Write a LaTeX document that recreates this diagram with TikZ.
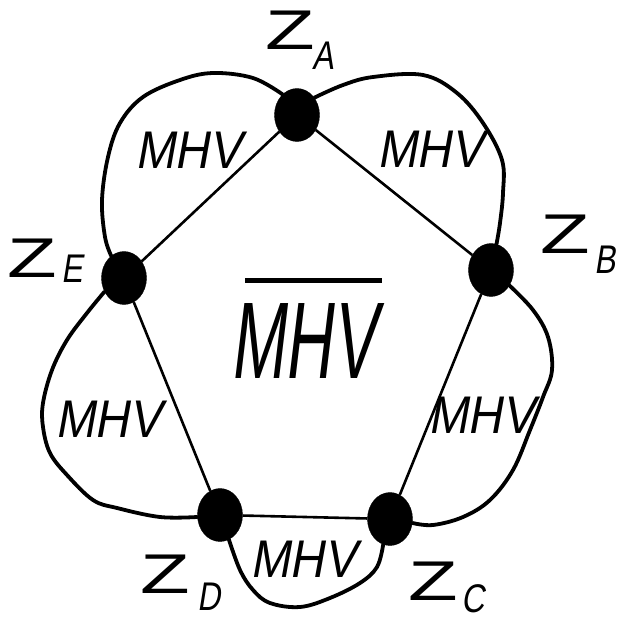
\documentclass[tikz,border=0pt]{standalone}
\usepackage{graphicx}
\usepackage{fontspec}
\setmainfont{Liberation Sans}
\newfontfamily\hand[FakeSlant=0.2]{Liberation Sans}
\usetikzlibrary{shapes.geometric}
\newcommand\zlab[3]{\scalebox{1.45}[1]{\fontsize{56}{56}\selectfont Z}\kern#2pt\raisebox{-#1pt}{\scalebox{0.8}[1]{\fontsize{40}{40}\selectfont\hand #3}}}
\begin{document}
\begin{tikzpicture}[x=1pt,y=-1pt,
 dot/.style={ellipse,fill=black,draw=black,minimum width=45pt,minimum height=53pt,inner sep=0pt},
 edge/.style={line width=2.6pt},
 lp/.style={line width=3.8pt,line cap=round,line join=round},
 mhv/.style={font=\hand\fontsize{53}{53}\selectfont,inner sep=0pt,xscale=0.9},
 bigmhv/.style={font=\hand\fontsize{109}{109}\selectfont,inner sep=0pt,xscale=0.6},
 zl/.style={inner sep=0pt,anchor=base west}]
\fill[white] (0,0) rectangle (622,626);
\useasboundingbox (0,0) rectangle (622,626);
% vertices
\node[dot] (A) at (297,115) {};
\node[dot] (B) at (491,270) {};
\node[dot] (C) at (390,519) {};
\node[dot] (D) at (220,515) {};
\node[dot] (E) at (124,278) {};
% pentagon
\draw[edge] (A) -- (B);
\draw[edge] (B) -- (C);
\draw[edge] (C) -- (D);
\draw[edge] (D) -- (E);
\draw[edge] (E) -- (A);
% outer loops
\draw[lp] plot[smooth,tension=0.6] coordinates {(A.125) (253,78) (213,73) (180,80) (143,97) (120,123) (108,157) (102,200) (105,237) (E.120)};
\draw[lp] plot[smooth,tension=0.6] coordinates {(A.45) (343,85) (373,77) (423,75) (457,93) (483,123) (502,160) (503,193) (500,223) (B.78)};
\draw[lp] plot[smooth,tension=0.6] coordinates {(B.-40) (533,310) (548,337) (552,370) (543,397) (530,430) (513,470) (490,500) (463,517) (433,525) (C.-10)};
\draw[lp] plot[smooth,tension=0.6] coordinates {(C.-105) (377,567) (360,583) (330,598) (300,607) (270,603) (253,590) (240,570) (D.-70)};
\draw[lp] plot[smooth,tension=0.6] coordinates {(D.185) (160,517) (117,508) (93,500) (67,475) (50,453) (43,427) (43,403) (52,370) (67,340) (87,313) (E.215)};
% MHV labels
\node[mhv] (m1) at (188,150) {MHV};
\node[mhv] (m2) at (430,149) {MHV};
\node[mhv] (m3) at (481,415) {MHV};
\node[mhv] (m4) at (108,419) {MHV};
\node[mhv] (m5) at (303,559) {MHV};
\node[bigmhv] (big) at (303,341) {MHV};
\draw[line width=5pt] ([xshift=15pt,yshift=23pt]big.north west) -- ([xshift=6pt,yshift=23pt]big.north east);
% vertex labels
\node[zl] (zA) at (265,50) {\zlab{20}{-2}{A}};
\node[zl] (zB) at (540,253) {\zlab{20}{5}{B}};
\node[zl] (zE) at (7,277) {\zlab{5}{5}{E}};
\node[zl] (zD) at (140,593) {\zlab{17}{8}{D}};
\node[zl] (zC) at (408,600) {\zlab{12}{4}{C}};
\end{tikzpicture}
\end{document}
